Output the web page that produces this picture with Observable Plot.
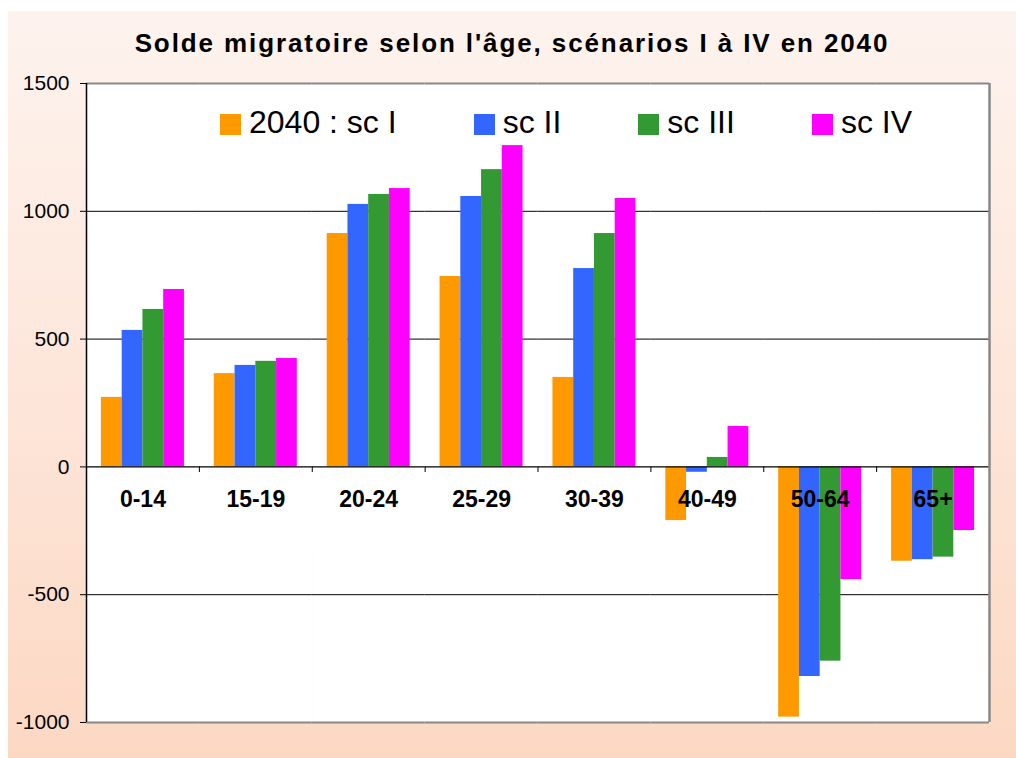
<!DOCTYPE html>
<html><head><meta charset="utf-8">
<script src="https://cdn.jsdelivr.net/npm/d3@7"></script>
<script src="https://cdn.jsdelivr.net/npm/@observablehq/plot@0.6"></script>
<style>
body{margin:0;background:#fff;font-family:"Liberation Sans",Arial,sans-serif;}
#wrap{position:relative;width:1016px;height:758px;overflow:hidden;}
#bg{position:absolute;left:8px;top:11px;right:0;bottom:0;background:linear-gradient(#fdf3ee,#fde6da 50%,#fcd8c3);}
#title{position:absolute;left:8px;right:0;top:30px;text-align:center;font-weight:bold;font-size:26px;line-height:1;letter-spacing:1.9px;color:#000;}
#chart{position:absolute;left:0;top:0;}
#legend{position:absolute;left:220px;top:106px;display:flex;gap:77px;}
.item{display:flex;align-items:flex-start;}
.sw{width:21px;height:21px;margin-top:8px;margin-right:8px;}
.lab{font-size:32px;line-height:1;color:#000;white-space:pre;}
</style></head>
<body>
<div id="wrap">
  <div id="bg"></div>
  <div id="chart"></div>
  <div id="title"></div>
  <div id="legend"></div>
</div>
<script>
const titleText = "Solde migratoire selon l'âge, scénarios I à IV en 2040";
const categories = ["0-14","15-19","20-24","25-29","30-39","40-49","50-64","65+"];
const series = ["2040 : sc I","sc II","sc III","sc IV"];
const colors = ["#ff9900","#3366ff","#339933","#ff00ff"];
const scI   = [272, 365,  913,  745,  350, -210, -979, -369];
const scII  = [534, 397, 1027, 1058,  776,  -21, -820, -363];
const scIII = [616, 413, 1066, 1163,  913,   37, -760, -353];
const scIV  = [694, 424, 1089, 1257, 1050,  158, -441, -249];
const yTicks = [-1000, -500, 0, 500, 1000, 1500];
const gridValues = [-500, 500, 1000];

const values = [scI, scII, scIII, scIV];
const data = categories.flatMap((c, i) => series.map((s, j) => ({cat: c, ser: s, v: values[j][i]})));

const W = 1016, H = 758, mL = 86, mR = 27, mT = 83, mB = 36;
const step = (W - mL - mR) / categories.length;

const chart = Plot.plot({
  width: W, height: H,
  marginLeft: mL, marginRight: mR, marginTop: mT, marginBottom: mB,
  style: {background: "transparent", fontFamily: "'Liberation Sans', Arial, sans-serif", fontSize: "21px", color: "#000", overflow: "visible"},
  fx: {domain: categories, padding: 0, round: false, axis: null},
  x: {domain: series, paddingInner: 0, paddingOuter: 0.72, round: false, axis: null},
  y: {domain: [yTicks[0], yTicks[yTicks.length - 1]], ticks: yTicks, tickSize: 6, tickPadding: 11, label: null, tickFormat: d => String(d)},
  color: {type: "ordinal", domain: series, range: colors},
  marks: [
    Plot.frame({fill: "white", stroke: null, insetRight: -0.5}),
    Plot.ruleY(gridValues, {stroke: "#000", strokeWidth: 1}),
    Plot.barY(data, {fx: "cat", x: "ser", y: "v", fill: "ser"}),
    Plot.ruleY([0], {stroke: "#000", strokeWidth: 1.2}),
    Plot.ruleX(categories.slice(1), {fx: d => d, x: null, y1: 0, y2: -22, dx: -step / 2, stroke: "#000"}),
    Plot.ruleX([categories[categories.length - 1]], {fx: d => d, x: null, y1: 0, y2: -22, dx: step / 2, stroke: "#000"}),
    Plot.ruleY([yTicks[yTicks.length - 1], yTicks[0]], {stroke: "#888", strokeWidth: 2}),
    Plot.ruleX([categories[0]], {fx: d => d, x: null, dx: -step / 2, stroke: "#000", strokeWidth: 1.5}),
    Plot.ruleX([categories[categories.length - 1]], {fx: d => d, x: null, dx: step / 2, stroke: "#888", strokeWidth: 2.5}),
    Plot.text(categories, {fx: d => d, y: 0, text: d => d, dy: 33, fontWeight: "bold", fontSize: 23, fill: "#000"})
  ]
});
document.getElementById("chart").appendChild(chart);
document.getElementById("title").textContent = titleText;

const legend = document.getElementById("legend");
series.forEach((s, i) => {
  const item = document.createElement("div");
  item.className = "item";
  const sw = document.createElement("span");
  sw.className = "sw";
  sw.style.background = colors[i];
  const lab = document.createElement("span");
  lab.className = "lab";
  lab.textContent = s;
  item.appendChild(sw); item.appendChild(lab);
  legend.appendChild(item);
});
</script>
</body></html>
